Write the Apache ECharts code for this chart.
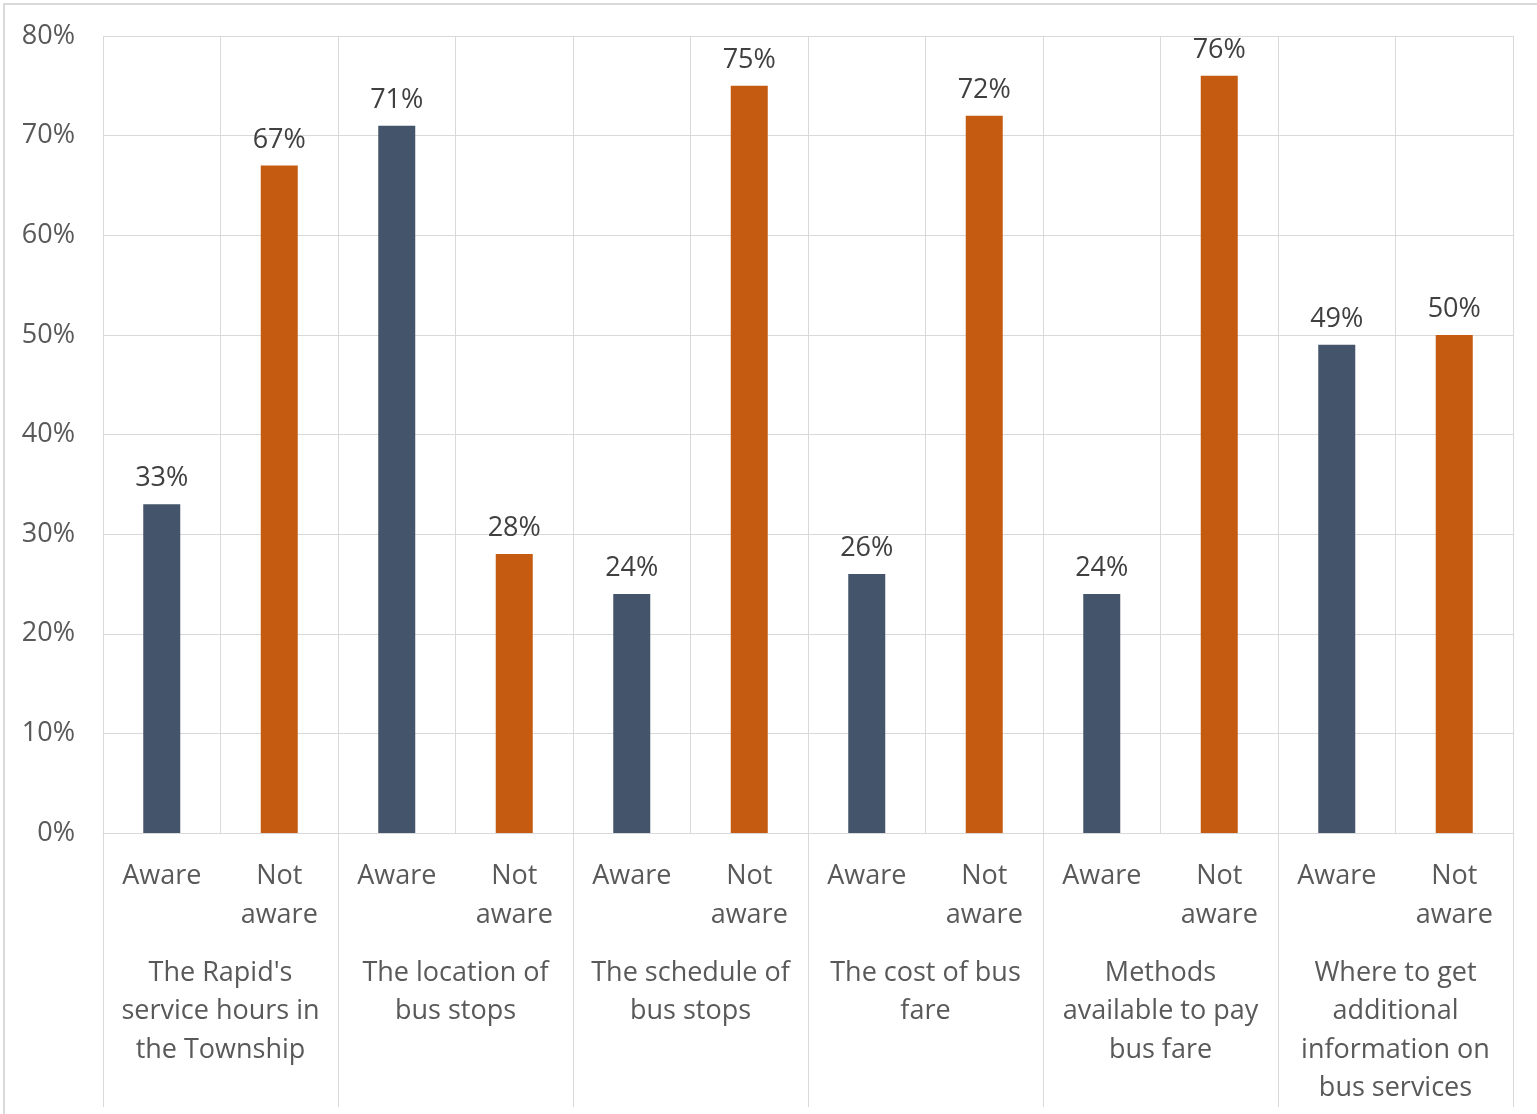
<!DOCTYPE html>
<html>
<head>
<meta charset="utf-8">
<style>
html,body{margin:0;padding:0;background:#fff;}
#chart{width:1537px;height:1114px;}
</style>
<script src="https://cdn.jsdelivr.net/npm/echarts@6/dist/echarts.min.js"></script>
</head>
<body>
<div id="chart"></div>
<script>
const groups = [
  "The Rapid's\nservice hours in\nthe Township",
  "The location of\nbus stops",
  "The schedule of\nbus stops",
  "The cost of bus\nfare",
  "Methods\navailable to pay\nbus fare",
  "Where to get\nadditional\ninformation on\nbus services"
];
const subCategories = ["Aware", "Not aware"];
const awareValues = [33, 71, 24, 26, 24, 49];
const notAwareValues = [67, 28, 75, 72, 76, 50];
const yTicks = [0, 10, 20, 30, 40, 50, 60, 70, 80];

const FONT = "'Open Sans', 'Noto Sans', sans-serif";
const FS = 27;
const labels = [];
const awareData = [];
const notAwareData = [];
groups.forEach((g, i) => {
  labels.push(subCategories[0]);
  labels.push(subCategories[1]);
  awareData.push(awareValues[i]);
  awareData.push('-');
  notAwareData.push('-');
  notAwareData.push(notAwareValues[i]);
});

const chart = echarts.init(document.getElementById('chart'));
const dataLabel = {
  show: true,
  position: 'top',
  distance: 12,
  formatter: '{c}%',
  fontFamily: FONT,
  fontSize: FS,
  color: '#404040'
};
chart.setOption({
  animation: false,
  backgroundColor: '#ffffff',
  graphic: [{
    type: 'rect',
    shape: { x: 4, y: 4, width: 1545, height: 1125 },
    style: { fill: 'none', stroke: '#d9d9d9', lineWidth: 2 },
    silent: true
  }],
  grid: { left: 103, right: 24, top: 36, bottom: 281, containLabel: false },
  xAxis: [{
    type: 'category',
    data: labels,
    position: 'bottom',
    axisLine: { show: true, lineStyle: { color: '#d9d9d9', width: 1 } },
    axisTick: { show: false },
    splitLine: { show: true, interval: 0, lineStyle: { color: '#d9d9d9', width: 1 } },
    axisLabel: {
      interval: 0,
      margin: 24,
      fontFamily: FONT,
      fontSize: FS,
      lineHeight: 39,
      color: '#595959',
      formatter: v => v.replace(' ', '\n')
    }
  }, {
    type: 'category',
    data: groups,
    position: 'bottom',
    axisLine: { show: false },
    axisTick: { show: true, interval: 0, inside: false, length: 274, lineStyle: { color: '#d9d9d9', width: 1 } },
    splitLine: { show: false },
    axisLabel: {
      interval: 0,
      margin: 121,
      fontFamily: FONT,
      fontSize: FS,
      lineHeight: 38.5,
      color: '#595959'
    }
  }],
  yAxis: {
    type: 'value',
    min: 0,
    max: 80,
    interval: 10,
    axisLine: { show: false },
    axisTick: { show: false },
    splitLine: { show: true, lineStyle: { color: '#d9d9d9', width: 1 } },
    axisLabel: {
      margin: 28,
      fontFamily: FONT,
      fontSize: FS,
      lineHeight: 32,
      color: '#595959',
      padding: [5, 0, 0, 0],
      formatter: v => yTicks.includes(v) ? v + '%' : ''
    }
  },
  series: [{
    name: 'Aware',
    type: 'bar',
    xAxisIndex: 0,
    data: awareData,
    barWidth: 37,
    barGap: '-100%',
    itemStyle: { color: '#44546A' },
    label: dataLabel
  }, {
    name: 'Not aware',
    type: 'bar',
    xAxisIndex: 0,
    data: notAwareData,
    barWidth: 37,
    barGap: '-100%',
    itemStyle: { color: '#C55A11' },
    label: dataLabel
  }]
});
</script>
</body>
</html>
